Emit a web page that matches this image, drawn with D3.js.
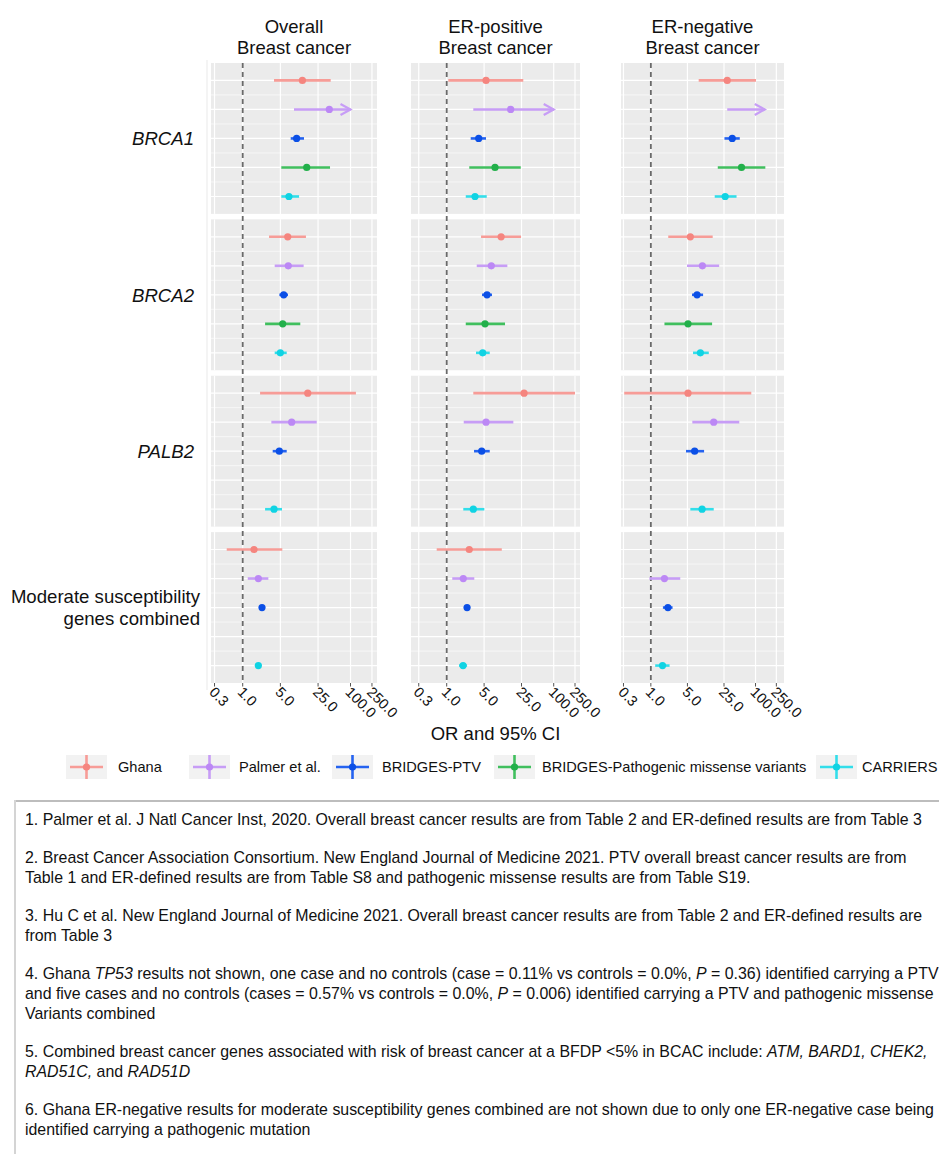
<!DOCTYPE html>
<html><head><meta charset="utf-8">
<script src="https://cdn.jsdelivr.net/npm/d3@7"></script>
<style>body{margin:0;background:#fff} text{font-family:"Liberation Sans",Arial,Helvetica,sans-serif;fill:#111}</style>
</head><body><svg id="c" width="939" height="1154"></svg>
<script>
// ---------- DATA ----------
const panelTitles = [["Overall","Breast cancer"],["ER-positive","Breast cancer"],["ER-negative","Breast cancer"]];
const genes = ["BRCA1","BRCA2","PALB2","Moderate susceptibility genes combined"];
const geneLabelLines = [["BRCA1"],["BRCA2"],["PALB2"],["Moderate susceptibility","genes combined"]];
const geneItalic = [true,true,true,false];
const sources = ["Ghana","Palmer et al.","BRIDGES-PTV","BRIDGES-Pathogenic missense variants","CARRIERS"];
const tickValues = [0.3,1,5,25,100,250];
const tickLabels = ["0.3","1.0","5.0","25.0","100.0","250.0"];
const xAxisTitle = "OR and 95% CI";

// rows = genes, columns = sources (null = not shown)
const overallOR = [[12.8,40.4,10.0,15.4,7.2],[6.84,7.0,5.76,5.52,4.99],[16.1,8.1,4.78,null,3.81],[1.62,1.95,2.28,null,1.95]];
const overallLo = [[3.81,8.95,7.77,5.2,5.2],[3.08,3.92,4.78,2.6,3.92],[2.1,3.4,3.6,null,2.6],[0.505,1.24,2.09,null,1.8]];
const overallHi = [[42.9,100,13.7,41.7,11.1],[14.9,13.5,6.92,11.7,6.55],[126,23.6,6.55,null,5.36],[5.43,2.99,2.52,null,2.1]];

const erPosOR = [[5.43,15.7,3.96,8.0,3.38],[10.4,6.82,5.67,5.2,4.71],[27.9,5.43,4.51,null,3.14],[2.64,2.04,2.4,null,2.02]];
const erPosLo = [[1.07,3.14,2.81,2.64,2.27],[4.38,3.64,4.57,2.27,3.53],[3.14,2.08,3.24,null,2.04],[0.65,1.27,2.2,null,1.7]];
const erPosHi = [[27,100,5.43,24.2,5.6],[24.5,13.6,7.03,12.3,6.37],[250,17.6,6.37,null,5.05],[10.7,3.28,2.6,null,2.4]];

const erNegOR = [[28.8,null,35.9,54,26.3],[5.68,9.66,7.64,5.13,8.84],[5.13,15.9,6.87,null,9.53],[null,1.82,2.12,null,1.67]];
const erNegLo = [[8.2,28.8,25.5,19,16.6],[2.15,4.91,6.12,1.82,6.4],[0.31,6.2,4.7,null,5.68],[null,0.94,1.7,null,1.21]];
const erNegHi = [[102,150,50,154,43.4],[15.2,20.2,9.96,14.8,12.8],[83,48.9,10.4,null,15.9],[null,3.65,2.6,null,2.28]];

// [panel, gene, source] whose upper CI is truncated with an arrow
const arrowCells = [[0,0,1],[1,0,1],[2,0,1]];

const footnotes = [
 [[["1. Palmer et al. J Natl Cancer Inst, 2020. Overall breast cancer results are from Table 2 and ER-defined results are from Table 3",0]]],
 [[["2. Breast Cancer Association Consortium. New England Journal of Medicine 2021. PTV overall breast cancer results are from",0]],
  [["Table 1 and ER-defined results are from Table S8 and pathogenic missense results are from Table S19.",0]]],
 [[["3. Hu C et al. New England Journal of Medicine 2021. Overall breast cancer results are from Table 2 and ER-defined results are",0]],
  [["from Table 3",0]]],
 [[["4. Ghana ",0],["TP53",1],[" results not shown, one case and no controls (case = 0.11% vs controls = 0.0%, ",0],["P",1],[" = 0.36) identified carrying a PTV",0]],
  [["and five cases and no controls (cases = 0.57% vs controls = 0.0%, ",0],["P",1],[" = 0.006) identified carrying a PTV and pathogenic missense",0]],
  [["Variants combined",0]]],
 [[["5. Combined breast cancer genes associated with risk of breast cancer at a BFDP <5% in BCAC include: ",0],["ATM, BARD1, CHEK2,",1]],
  [["RAD51C,",1],[" and ",0],["RAD51D",1]]],
 [[["6. Ghana ER-negative results for moderate susceptibility genes combined are not shown due to only one ER-negative case being",0]],
  [["identified carrying a pathogenic mutation",0]]]
];

// ---------- LAYOUT ----------
const panelX = [[211,377],[411,580],[621,784]];
const panelDomains = [[0.258,310],[0.215,310],[0.269,350]];
const panelData = [[overallOR,overallLo,overallHi],[erPosOR,erPosLo,erPosHi],[erNegOR,erNegLo,erNegHi]];
const lineColors = ["#F79C97","#C79DF6","#2563F0","#40BF5E","#33DEEA"];
const dotColors  = ["#F5857F","#BC88F5","#0B4FE6","#22B04A","#10D3E3"];
const legendKeyX = [66,189,332,494,816];
const legendTextX = [118,239,382,542,862];

const svg = d3.select("#c");
svg.append("rect").attr("width",939).attr("height",1154).attr("fill","#fff");

const yBand = d3.scaleBand().domain(genes).range([63,683]).paddingInner(0.035);
const yPoint = d3.scalePoint().domain(sources).range([0,yBand.bandwidth()]).padding(0.6);
const col = d3.scaleOrdinal().domain(sources).range(lineColors);
const dcol = d3.scaleOrdinal().domain(sources).range(dotColors);

// faint divider
svg.append("line").attr("x1",207).attr("x2",207).attr("y1",60).attr("y2",690).attr("stroke","#f0f0f0").attr("stroke-width",1.5);

// gene labels
genes.forEach((g,gi)=>{
  const cy = yBand(g)+yBand.bandwidth()/2;
  const lines = geneLabelLines[gi];
  const lh = 22;
  lines.forEach((ln,li)=>{
    svg.append("text").attr("x",geneItalic[gi]?194:200).attr("y",cy + (li-(lines.length-1)/2)*lh)
      .attr("dy","0.36em").attr("text-anchor","end")
      .attr("font-size",18.6).attr("font-style",geneItalic[gi]?"italic":"normal").text(ln);
  });
});

panelX.forEach((px,pi)=>{
  const x = d3.scaleLog().domain(panelDomains[pi]).range(px);
  const [ORs,Los,His] = panelData[pi];
  const cx = (px[0]+px[1])/2;
  // titles
  panelTitles[pi].forEach((t,ti)=>{
    svg.append("text").attr("x",cx).attr("y",32.5+ti*21.5).attr("text-anchor","middle")
      .attr("font-size",18.5).text(t);
  });
  const pg = svg.append("g");
  genes.forEach((g,gi)=>{
    const top = yBand(g), bw = yBand.bandwidth();
    pg.append("rect").attr("x",px[0]).attr("y",top).attr("width",px[1]-px[0]).attr("height",bw).attr("fill","#EBEBEB");
    // minor horizontal grid
    for(let k=0;k<sources.length-1;k++){
      const ym = top + (yPoint(sources[k])+yPoint(sources[k+1]))/2;
      pg.append("line").attr("x1",px[0]).attr("x2",px[1]).attr("y1",ym).attr("y2",ym).attr("stroke","#fff").attr("stroke-width",0.6);
    }
    // major grid
    sources.forEach(s=>{
      const y = top + yPoint(s);
      pg.append("line").attr("x1",px[0]).attr("x2",px[1]).attr("y1",y).attr("y2",y).attr("stroke","#fff").attr("stroke-width",1.2);
    });
    tickValues.forEach(v=>{
      pg.append("line").attr("x1",x(v)).attr("x2",x(v)).attr("y1",top).attr("y2",top+bw).attr("stroke","#fff").attr("stroke-width",1.2);
    });
  });
  // reference line at OR = 1
  svg.append("line").attr("x1",x(1)).attr("x2",x(1)).attr("y1",63).attr("y2",683)
    .attr("stroke","#6a6a6a").attr("stroke-width",1.8).attr("stroke-dasharray","5,4");
  // marks
  const mg = svg.append("g");
  genes.forEach((g,gi)=>{
    sources.forEach((s,si)=>{
      const lo = Los[gi][si], hi = His[gi][si], or = ORs[gi][si];
      if(lo==null && or==null) return;
      const y = yBand(g)+yPoint(s);
      mg.append("line").attr("x1",x(lo)).attr("x2",x(hi)).attr("y1",y).attr("y2",y)
        .attr("stroke",col(s)).attr("stroke-width",2.6);
      const isArrow = arrowCells.some(a=>a[0]===pi&&a[1]===gi&&a[2]===si);
      if(isArrow){
        const tx = x(hi);
        mg.append("path").attr("d",`M${tx-10},${y-5.5}L${tx},${y}L${tx-10},${y+5.5}`)
          .attr("fill","none").attr("stroke",col(s)).attr("stroke-width",2.2);
      }
      if(or!=null){
        mg.append("circle").attr("cx",x(or)).attr("cy",y).attr("r",3.6).attr("fill",dcol(s));
      }
    });
  });
  // axis ticks + labels
  const ag = svg.append("g");
  tickValues.forEach((v,ti)=>{
    ag.append("line").attr("x1",x(v)).attr("x2",x(v)).attr("y1",683).attr("y2",686.5).attr("stroke","#555").attr("stroke-width",1);
    ag.append("text").attr("transform",`translate(${x(v)-6},${693}) rotate(45)`)
      .attr("font-size",14.5).text(tickLabels[ti]);
  });
  if(pi===1){
    svg.append("text").attr("x",cx).attr("y",740).attr("text-anchor","middle").attr("font-size",18.5).text(xAxisTitle);
  }
});

// legend
sources.forEach((s,si)=>{
  const kx = legendKeyX[si], ky = 755, kw = 41, kh = 24;
  svg.append("rect").attr("x",kx).attr("y",ky).attr("width",kw).attr("height",kh).attr("fill","#F2F2F2");
  svg.append("line").attr("x1",kx+4).attr("x2",kx+kw-4).attr("y1",ky+kh/2).attr("y2",ky+kh/2).attr("stroke",col(s)).attr("stroke-width",2.6);
  svg.append("line").attr("x1",kx+kw/2).attr("x2",kx+kw/2).attr("y1",ky).attr("y2",ky+kh).attr("stroke",col(s)).attr("stroke-width",2.6);
  svg.append("circle").attr("cx",kx+kw/2).attr("cy",ky+kh/2).attr("r",3.6).attr("fill",dcol(s));
  svg.append("text").attr("x",legendTextX[si]).attr("y",772).attr("font-size",14.6).text(s);
});

// footnote box
svg.append("line").attr("x1",14).attr("x2",939).attr("y1",801).attr("y2",801).attr("stroke","#bdbdbd").attr("stroke-width",2);
svg.append("line").attr("x1",15).attr("x2",15).attr("y1",800).attr("y2",1154).attr("stroke","#d4d4d4").attr("stroke-width",2);
let fy = 825;
footnotes.forEach((para,pi)=>{
  para.forEach((line,li)=>{
    const t = svg.append("text").attr("x",25).attr("y",fy).attr("font-size",15.9);
    line.forEach(seg=>{
      t.append("tspan").attr("font-style",seg[1]?"italic":"normal").text(seg[0]);
    });
    fy += (li<para.length-1)?20:0;
  });
  fy += 38;
});
</script></body></html>
